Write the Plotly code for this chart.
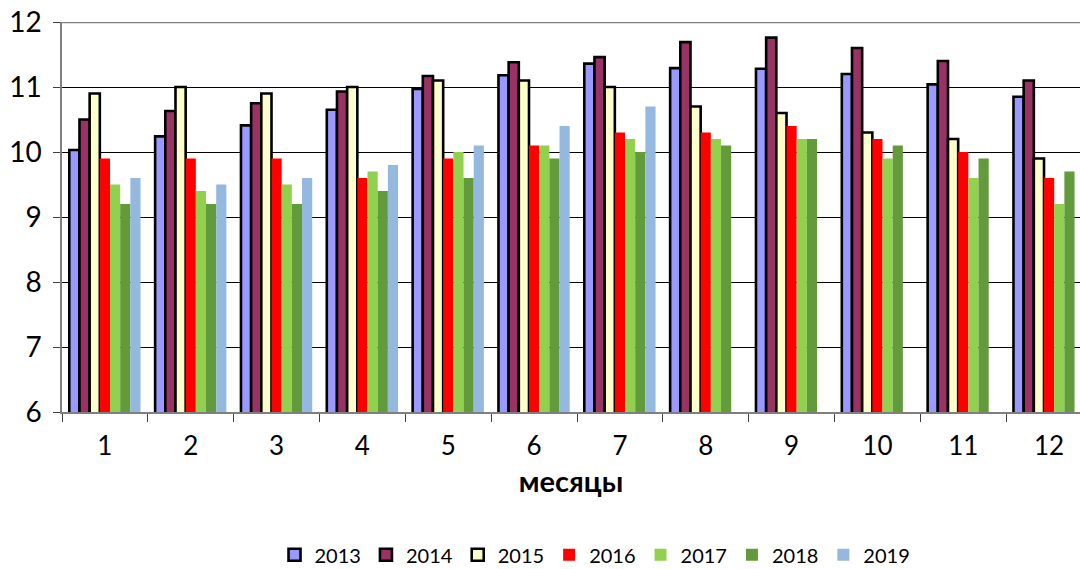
import plotly.graph_objects as go

months = ["1", "2", "3", "4", "5", "6", "7", "8", "9", "10", "11", "12"]

y2013 = [10.03, 10.24, 10.41, 10.65, 10.97, 11.18, 11.36, 11.29, 11.28, 11.2, 11.04, 10.85]
y2014 = [10.5, 10.63, 10.75, 10.93, 11.17, 11.38, 11.46, 11.69, 11.76, 11.6, 11.4, 11.1]
y2015 = [10.9, 11.0, 10.9, 11.0, 11.1, 11.1, 11.0, 10.7, 10.6, 10.3, 10.2, 9.9]
y2016 = [9.9, 9.9, 9.9, 9.6, 9.9, 10.1, 10.3, 10.3, 10.4, 10.2, 10.0, 9.6]
y2017 = [9.5, 9.4, 9.5, 9.7, 10.0, 10.1, 10.2, 10.2, 10.2, 9.9, 9.6, 9.2]
y2018 = [9.2, 9.2, 9.2, 9.4, 9.6, 9.9, 10.0, 10.1, 10.2, 10.1, 9.9, 9.7]
y2019 = [9.6, 9.5, 9.6, 9.8, 10.1, 10.4, 10.7, None, None, None, None, None]

series = [
    ("2013", y2013, "#9999FF", True),
    ("2014", y2014, "#993366", True),
    ("2015", y2015, "#FFFFCC", True),
    ("2016", y2016, "#FF0000", False),
    ("2017", y2017, "#92D050", False),
    ("2018", y2018, "#629A3C", False),
    ("2019", y2019, "#95B8DF", False),
]

FONT = "Lato, sans-serif"

fig = go.Figure()
for name, vals, color, outlined in series:
    fig.add_trace(go.Bar(
        name=name,
        x=months,
        y=vals,
        marker=dict(
            color=color,
            line=dict(color="black", width=2.6 if outlined else 0),
        ),
    ))

fig.update_layout(
    width=1080,
    height=569,
    barmode="group",
    bargap=0.17,
    bargroupgap=0,
    paper_bgcolor="white",
    plot_bgcolor="white",
    margin=dict(l=62, r=0, t=22, b=157, autoexpand=False),
    font=dict(family=FONT, color="black"),
    showlegend=True,
    legend=dict(
        orientation="h",
        xref="paper",
        yref="paper",
        x=0.5236,
        xanchor="center",
        y=-0.366,
        yanchor="middle",
        font=dict(size=20, family=FONT),
        itemwidth=30,
        traceorder="normal",
    ),
)

fig.update_yaxes(
    range=[6, 12],
    dtick=1,
    showgrid=True,
    gridcolor="black",
    gridwidth=1,
    showline=True,
    linecolor="#7f7f7f",
    linewidth=1.5,
    ticks="outside",
    ticklen=7,
    tickcolor="#404040",
    tickfont=dict(size=28, family=FONT),
    ticklabelstandoff=6,
    zeroline=False,
    automargin=False,
)

fig.update_xaxes(
    range=[-0.5, 11.36],
    showline=True,
    linecolor="#7f7f7f",
    linewidth=1.5,
    ticks="outside",
    tickson="boundaries",
    ticklen=8,
    tickcolor="#404040",
    tickfont=dict(size=26, family=FONT),
    ticklabelstandoff=10,
    title=dict(text="<b>месяцы</b>", font=dict(size=29, family=FONT), standoff=12),
    automargin=False,
)

# gray top border of the plot area
fig.add_shape(type="line", xref="paper", yref="y", x0=0, x1=1, y0=12, y1=12,
              line=dict(color="#808080", width=2.5))

fig.write_html(
    "out.html",
    config={"displayModeBar": False},
    post_script="document.body.style.margin='0';",
)
